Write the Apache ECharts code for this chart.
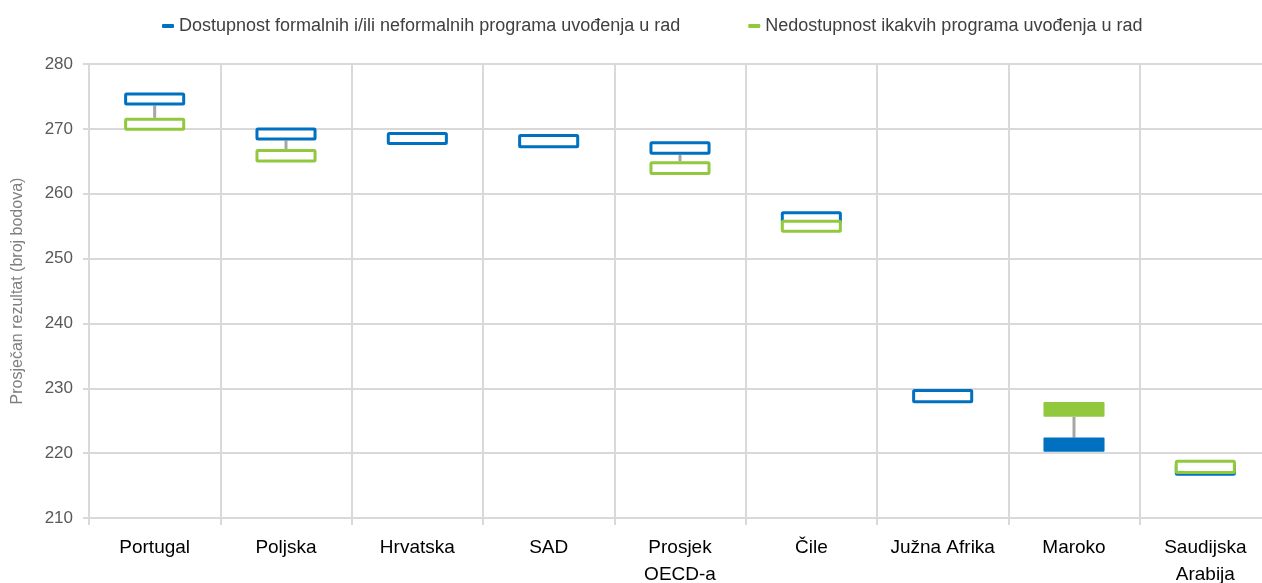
<!DOCTYPE html>
<html>
<head>
<meta charset="utf-8">
<script src="https://cdn.jsdelivr.net/npm/echarts@6/dist/echarts.min.js"></script>
<style>
html,body{margin:0;padding:0;background:#fff;overflow:hidden;width:1262px;height:583px;}
#chart{width:1272px;height:583px;}
</style>
</head>
<body>
<div id="chart"></div>
<script>
const categories = ['Portugal','Poljska','Hrvatska','SAD','Prosjek\nOECD-a','Čile','Južna Afrika','Maroko','Saudijska\nArabija'];
const seriesNames = ['Dostupnost formalnih i/ili neformalnih programa uvođenja u rad','Nedostupnost ikakvih programa uvođenja u rad'];
const blueLow  = [273.6, 268.2, 267.5, 267.0, 266.0, 255.4, 227.7, 220.2, 216.5];
const blueHigh = [275.6, 270.2, 269.5, 269.2, 268.1, 257.3, 229.9, 222.4, 218.5];
const greenLow  = [269.7, 264.8, null, null, 262.9, 254.0, null, 225.6, 216.8];
const greenHigh = [271.7, 266.9, null, null, 265.0, 256.0, null, 227.9, 219.0];
const significant = [0, 0, 0, 0, 0, 0, 0, 1, 0];
const yTicks = {min: 210, max: 280, interval: 10};

const BLUE = '#0070C0', GREEN = '#92C83E', GREY = '#A6A6A6', GRID = '#D9D9D9';
const FONT = "'Liberation Sans', Arial, sans-serif";

function boxData(lo, hi) {
  const out = [];
  categories.forEach((c, i) => {
    if (lo[i] != null && hi[i] != null) out.push([i, lo[i], hi[i], significant[i]]);
  });
  return out;
}
const connectorData = [];
categories.forEach((c, i) => {
  if (greenLow[i] == null) return;
  if (blueLow[i] > greenHigh[i]) connectorData.push([i, greenHigh[i], blueLow[i]]);
  else if (greenLow[i] > blueHigh[i]) connectorData.push([i, blueHigh[i], greenLow[i]]);
});

function makeBoxRenderer(color) {
  return function (params, api) {
    const idx = api.value(0);
    const x = api.coord([idx, api.value(1)])[0];
    const yLo = api.coord([idx, api.value(1)])[1];
    const yHi = api.coord([idx, api.value(2)])[1];
    const w = api.size([1, 0])[0] * 0.465;
    const lw = 3;
    if (api.value(3)) {
      return {type: 'rect', shape: {x: x - w / 2, y: yHi, width: w, height: yLo - yHi, r: 1},
        style: {fill: color}};
    }
    return {type: 'rect', shape: {x: x - w / 2 + lw / 2, y: yHi + lw / 2, width: w - lw, height: yLo - yHi - lw, r: 1},
      style: {fill: '#fff', stroke: color, lineWidth: lw}};
  };
}

const chart = echarts.init(document.getElementById('chart'), null, {renderer: 'canvas'});
chart.setOption({
  animation: false,
  backgroundColor: '#fff',
  textStyle: {fontFamily: FONT},
  legend: {
    left: 157, top: 12, width: 1100,
    icon: 'roundRect', itemWidth: 12, itemHeight: 4, itemGap: 68,
    textStyle: {fontSize: 18, color: '#404040', fontFamily: FONT},
    data: seriesNames
  },
  grid: {left: 89, right: 1, top: 64, bottom: 65, containLabel: false, outerBoundsMode: 'none'},
  xAxis: {
    type: 'category', data: categories, boundaryGap: true,
    axisLine: {lineStyle: {color: GRID, width: 2}},
    axisTick: {show: true, length: 7, lineStyle: {color: GRID, width: 2}},
    splitLine: {show: true, lineStyle: {color: GRID, width: 2}},
    axisLabel: {fontSize: 19, color: '#000', margin: 16, lineHeight: 27, interval: 0, fontFamily: FONT}
  },
  yAxis: {
    type: 'value', min: yTicks.min, max: yTicks.max, interval: yTicks.interval,
    name: 'Prosječan rezultat (broj bodova)', nameLocation: 'middle', nameRotate: 90, nameGap: 63,
    nameTextStyle: {fontSize: 16, color: '#7F7F7F', fontFamily: FONT},
    axisLine: {show: true, lineStyle: {color: GRID, width: 2}},
    axisTick: {show: true, length: 6, lineStyle: {color: GRID, width: 2}},
    splitLine: {show: true, lineStyle: {color: GRID, width: 2}},
    axisLabel: {fontSize: 17, color: '#595959', margin: 16, fontFamily: FONT}
  },
  series: [
    {
      type: 'custom', name: 'connector', z: 1, silent: true,
      renderItem: function (params, api) {
        const idx = api.value(0);
        const p1 = api.coord([idx, api.value(1)]);
        const p2 = api.coord([idx, api.value(2)]);
        return {type: 'line', shape: {x1: p1[0], y1: p1[1], x2: p2[0], y2: p2[1]},
          style: {stroke: GREY, lineWidth: 3}};
      },
      encode: {x: 0, y: [1, 2]},
      data: connectorData
    },
    {
      type: 'custom', name: seriesNames[0], z: 2,
      itemStyle: {color: BLUE},
      renderItem: makeBoxRenderer(BLUE),
      encode: {x: 0, y: [1, 2]},
      data: boxData(blueLow, blueHigh)
    },
    {
      type: 'custom', name: seriesNames[1], z: 3,
      itemStyle: {color: GREEN},
      renderItem: makeBoxRenderer(GREEN),
      encode: {x: 0, y: [1, 2]},
      data: boxData(greenLow, greenHigh)
    }
  ]
});
</script>
</body>
</html>
